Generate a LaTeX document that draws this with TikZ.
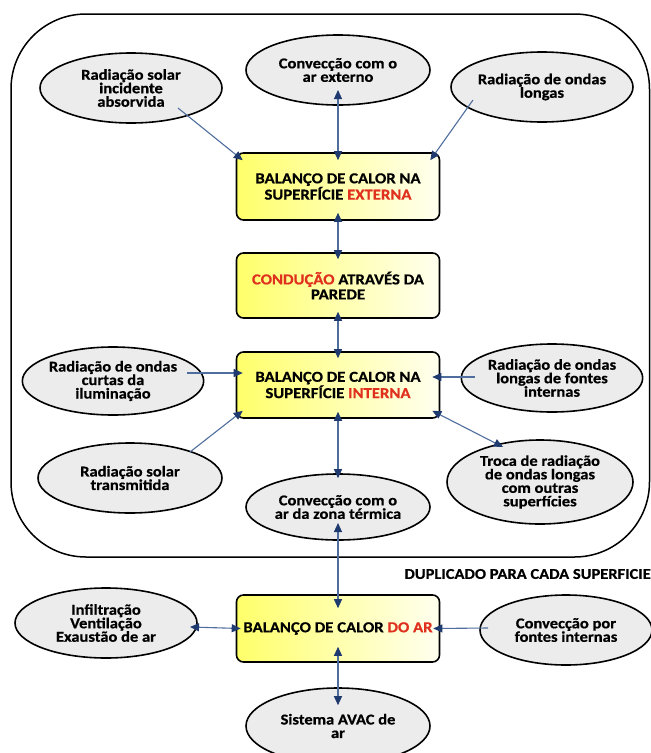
\documentclass[tikz,border=0pt]{standalone}
\usepackage{fontspec}
\setmainfont{Carlito}[FakeStretch=1.1,BoldFeatures={FakeBold=0.6}]
\usetikzlibrary{shapes.geometric,arrows.meta,calc}
\definecolor{navy}{HTML}{1F3A6E}
\definecolor{linec}{HTML}{4F6E9E}
\definecolor{redt}{HTML}{E0301E}
\definecolor{ellfill}{HTML}{ECECEC}
\definecolor{boxl}{HTML}{FFFF6A}
\definecolor{boxr}{HTML}{FFFFF0}
\tikzset{
  oval/.style={ellipse, draw=black, line width=1.6pt, fill=ellfill, inner sep=0pt,
    align=center, font=\bfseries\fontsize{15}{13.5}\selectfont},
  hbox/.style={rectangle, rounded corners=7pt, draw=black, line width=1.6pt,
    left color=boxl, right color=boxr, minimum width=203pt, minimum height=67pt,
    inner sep=0pt, align=center, font=\bfseries\fontsize{15.2}{15}\selectfont},
  conn/.style={draw=linec, line width=1.1pt},
  >={Triangle[length=9pt,width=8pt,color=navy]}
}
\begin{document}
\begin{tikzpicture}[x=1pt,y=-1pt]
\useasboundingbox (0,0) rectangle (651,753);
\fill[white] (0,0) rectangle (651,753);
% outer frame
\draw[line width=1.5pt, rounded corners=75pt] (11,14) rectangle (649.5,557);
% boxes
\node[hbox] (b1) at (338,186.5) {BALANÇO DE CALOR NA\\SUPERFÍCIE \textcolor{redt}{EXTERNA}};
\node[hbox,minimum height=65pt] (b2) at (338,285.5) {\textcolor{redt}{CONDUÇÃO} ATRAVÉS DA\\PAREDE};
\node[hbox,minimum height=66pt] (b3) at (338,385) {BALANÇO DE CALOR NA\\SUPERFÍCIE \textcolor{redt}{INTERNA}};
\node[hbox] (b4) at (338,628.5) {BALANÇO DE CALOR \textcolor{redt}{DO AR}};
% ellipses
\node[oval,minimum width=182pt,minimum height=70pt] (A) at (131,88) {Radiação solar\\incidente\\absorvida};
\node[oval,minimum width=184pt,minimum height=70pt] (B) at (338,70) {Convecção com o\\ar externo};
\node[oval,minimum width=182pt,minimum height=70pt] (C) at (542,87) {Radiação de ondas\\longas};
\node[oval,minimum width=180pt,minimum height=68pt] (D) at (113,381) {Radiação de ondas\\curtas da\\iluminação};
\node[oval,minimum width=184pt,minimum height=70pt] (E) at (130,478) {Radiação solar\\transmitida};
\node[oval,minimum width=180pt,minimum height=68pt] (F) at (552,378) {Radiação de ondas\\longas de fontes\\internas};
\node[oval,minimum width=186pt,minimum height=84pt] (G) at (540,482) {Troca de radiação\\de ondas longas\\com outras\\superfícies};
\node[oval,minimum width=184pt,minimum height=66pt] (H) at (338,507) {Convecção com o\\ar da zona térmica};
\node[oval,minimum width=182pt,minimum height=70pt] (I) at (106,623) {Infiltração\\Ventilação\\Exaustão de ar};
\node[oval,minimum width=172pt,minimum height=70pt] (J) at (566,630) {Convecção por\\fontes internas};
\node[oval,minimum width=184pt,minimum height=76pt] (K) at (338,726) {Sistema AVAC de\\ar};
% label
\node[anchor=east, inner sep=0pt, font=\bfseries\fontsize{15}{15}\selectfont] (dup) at (651,574) {DUPLICADO PARA CADA SUPERFICIE};
% connectors
\draw[conn,->] ($(A.center)+(47,20)$) -- ($(b1.north west)+(7,8)$);
\draw[conn,->] ($(C.center)+(-69,13)$) -- ($(b1.north east)+(-10,8)$);
\draw[conn,<->] ($(B.center)+(0,20)$) -- ($(b1.north)+(0,8)$);
\draw[conn,<->] ($(b1.south)+(0,-8)$) -- ($(b2.north)+(0,7)$);
\draw[conn,<->] ($(b2.south)+(0,-7)$) -- ($(b3.north)+(0,7)$);
\draw[conn,->] ($(D.center)+(74,-8)$) -- ($(b3.west)+(7,-12)$);
\draw[conn,->] ($(F.center)+(-77,-1)$) -- ($(b3.east)+(-8,-8)$);
\draw[conn,->] ($(E.center)+(60,-26)$) -- ($(b3.south west)+(7,-8)$);
\draw[conn,<->] ($(b3.south east)+(-8,-8)$) -- ($(G.center)+(-37,-35)$);
\draw[conn,<->] ($(b3.south)+(0,-7)$) -- ($(H.north)+(0,5)$);
\draw[conn,<->] ($(H.center)+(0,16)$) -- ($(b4.north)+(0,14)$);
\draw[conn,<->] ($(b4.south)+(0,-16)$) -- ($(K.north)+(0,18)$);
\draw[conn,<->] ($(I.center)+(84,4)$) -- ($(b4.west)+(5,0)$);
\draw[conn,->] ($(J.center)+(-78,-2)$) -- ($(b4.east)+(-7,0)$);
\end{tikzpicture}
\end{document}
